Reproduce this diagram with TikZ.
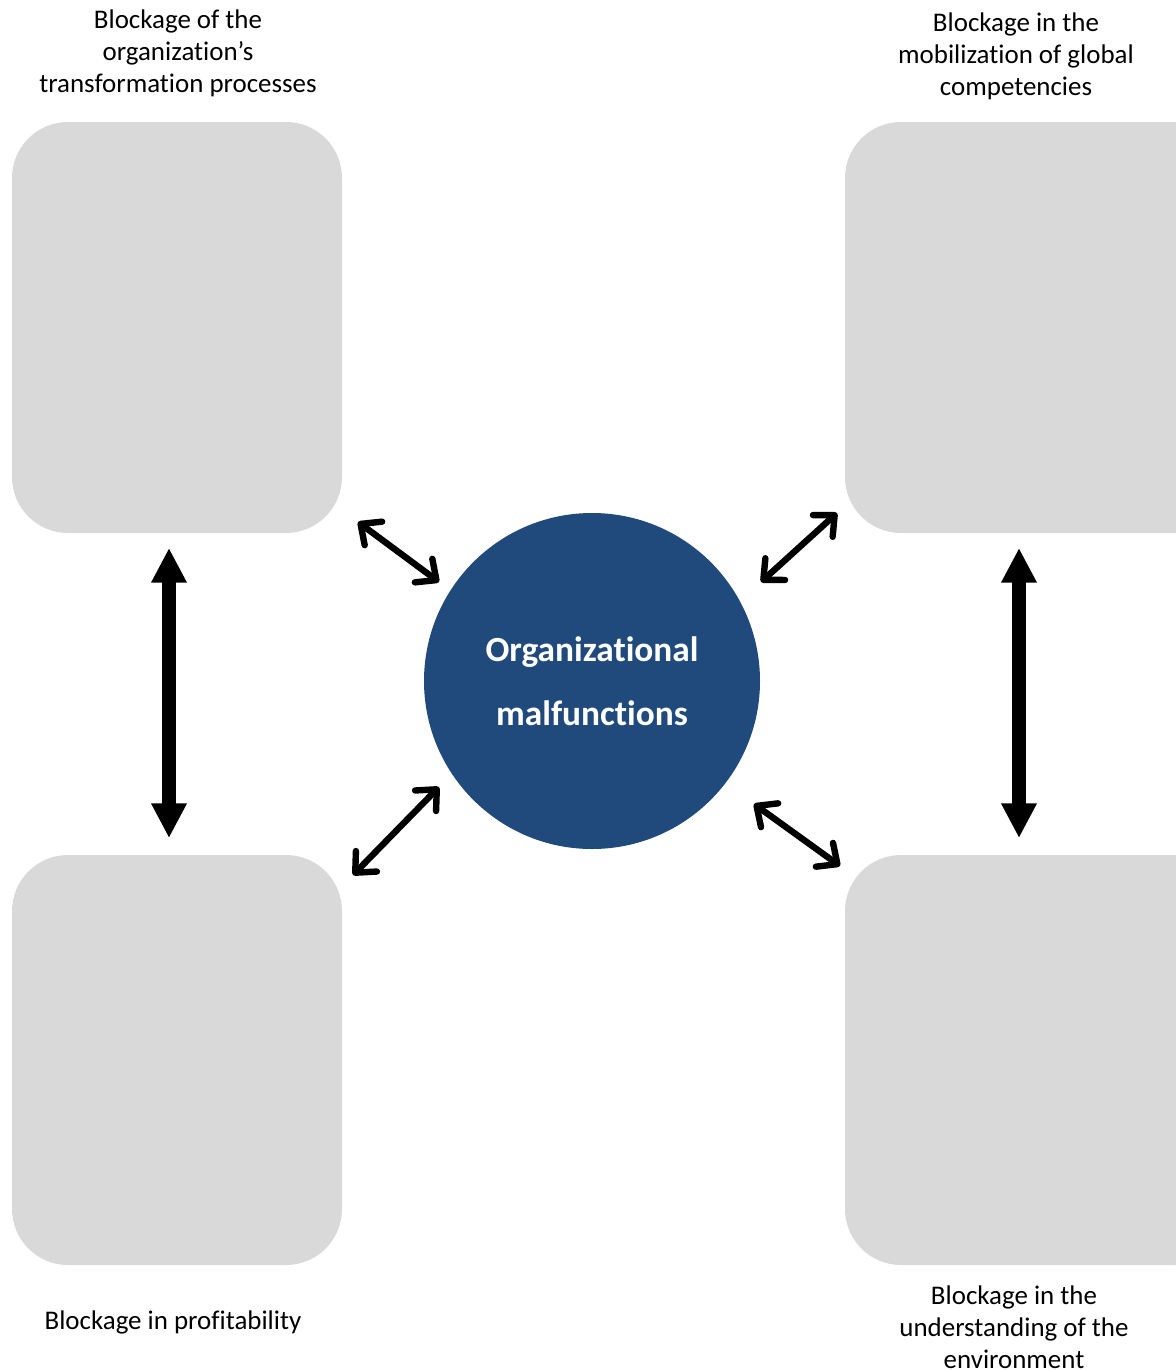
\documentclass[tikz,border=0pt]{standalone}
\usepackage{fontspec}
\setmainfont[Ligatures={NoCommon}]{Carlito}
\usetikzlibrary{arrows.meta}
\definecolor{boxgray}{HTML}{D9D9D9}
\definecolor{circblue}{HTML}{214A7C}
\begin{document}
\begin{tikzpicture}[x=0.75pt,y=-0.75pt,
  blockbox/.style={fill=boxgray,draw=none,rounded corners=42pt},
  lbl/.style={align=center,font=\fontsize{20.2}{24}\selectfont,inner sep=0pt,anchor=center},
  thickarrow/.style={line width=10.5pt,{Triangle[length=26pt,width=25pt]}-{Triangle[length=26pt,width=25pt]}},
  diagarrow/.style={line width=4.8pt,{Straight Barb[length=12pt,width=22pt,line cap=round,round]}-{Straight Barb[length=12pt,width=22pt,line cap=round,round]}}]
\useasboundingbox (0,0) rectangle (1176,1371);
\clip (0,0) rectangle (1176,1371);
% boxes
\path[blockbox] (12,122) rectangle (342,533);
\path[blockbox] (845,122) rectangle (1230,533);
\path[blockbox] (12,855) rectangle (342,1265);
\path[blockbox] (845,855) rectangle (1230,1265);
% circle
\node[circle,fill=circblue,minimum size=252pt,inner sep=0pt,text=white,align=center,
  font=\bfseries\fontsize{26.5}{48}\selectfont] (c) at (592,681) {Organizational\\malfunctions};
% labels
\node[lbl] (ltl) at (178,53) {Blockage of the\\organization’s\\transformation processes};
\node[lbl] (ltr) at (1016,56) {Blockage in the\\mobilization of global\\competencies};
\node[lbl] (lbl) at (173,1322) {Blockage in profitability};
\node[lbl] (lbr) at (1014,1327) {Blockage in the\\understanding of the\\environment};
% vertical arrows
\coordinate (la) at (169,548);
\coordinate (lb) at (169,838);
\coordinate (ra) at (1019,548);
\coordinate (rb) at (1019,838);
\draw[thickarrow] (la) -- (lb);
\draw[thickarrow] (ra) -- (rb);
% diagonal arrows
\coordinate (d1a) at (358,522);
\coordinate (d1b) at (439,582);
\coordinate (d2a) at (761,582);
\coordinate (d2b) at (837,513);
\coordinate (d3a) at (353,875);
\coordinate (d3b) at (439,787);
\coordinate (d4a) at (754,804);
\coordinate (d4b) at (840,866);
\draw[diagarrow] (d1a) -- (d1b);
\draw[diagarrow] (d2a) -- (d2b);
\draw[diagarrow] (d3a) -- (d3b);
\draw[diagarrow] (d4a) -- (d4b);
\end{tikzpicture}
\end{document}
